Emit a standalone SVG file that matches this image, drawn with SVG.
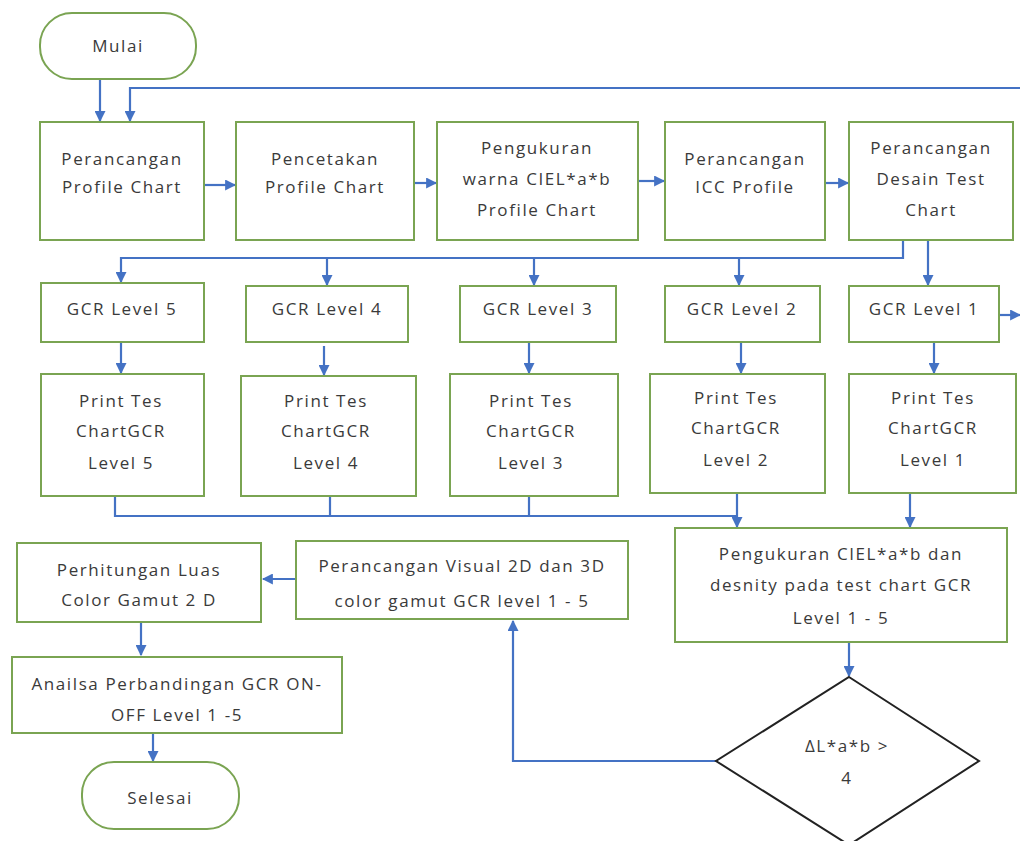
<svg xmlns="http://www.w3.org/2000/svg" width="1020" height="841" viewBox="0 0 1020 841">
<style>
.n{fill:#fff;stroke:#7aa452;stroke-width:2}
.t{font-family:"Open Sans","Liberation Sans",sans-serif;font-size:17px;fill:#3a3a3a;text-anchor:middle;dominant-baseline:central;letter-spacing:1.6px}
.c{fill:none;stroke:#4472c4;stroke-width:2.2}
</style>
<defs>
<marker id="a" viewBox="0 0 10 10" refX="9" refY="5" markerWidth="5" markerHeight="5" orient="auto" markerUnits="strokeWidth">
<path d="M0,0 L10,5 L0,10 z" fill="#4472c4"/>
</marker>
</defs>
<rect width="1020" height="841" fill="#fff"/>
<g id="connectors">
<path class="c" d="M100,79 V121" marker-end="url(#a)"/>
<path class="c" d="M1020,88 H130 V121" marker-end="url(#a)"/>
<path class="c" d="M204,185 H235" marker-end="url(#a)"/>
<path class="c" d="M414,183 H436" marker-end="url(#a)"/>
<path class="c" d="M638,181 H664" marker-end="url(#a)"/>
<path class="c" d="M825,183 H848" marker-end="url(#a)"/>
<path class="c" d="M903,240 V258 H121 V282" marker-end="url(#a)"/>
<path class="c" d="M327,258 V285" marker-end="url(#a)"/>
<path class="c" d="M534,258 V285" marker-end="url(#a)"/>
<path class="c" d="M739,258 V285" marker-end="url(#a)"/>
<path class="c" d="M928,240 V285" marker-end="url(#a)"/>
<path class="c" d="M999,315 H1020" marker-end="url(#a)"/>
<path class="c" d="M121,342 V373" marker-end="url(#a)"/>
<path class="c" d="M324,346 V375" marker-end="url(#a)"/>
<path class="c" d="M529,342 V373" marker-end="url(#a)"/>
<path class="c" d="M741,342 V373" marker-end="url(#a)"/>
<path class="c" d="M934,342 V373" marker-end="url(#a)"/>
<path class="c" d="M115,496 V516 H737"/>
<path class="c" d="M330,496 V516"/>
<path class="c" d="M529,496 V516"/>
<path class="c" d="M737,493 V527" marker-end="url(#a)"/>
<path class="c" d="M910,493 V527" marker-end="url(#a)"/>
<path class="c" d="M849,642 V676" marker-end="url(#a)"/>
<path class="c" d="M716,761 H513 V621" marker-end="url(#a)"/>
<path class="c" d="M296,579 H263" marker-end="url(#a)"/>
<path class="c" d="M141,622 V655" marker-end="url(#a)"/>
<path class="c" d="M153,733 V761" marker-end="url(#a)"/>
</g>
<g id="mulai"><rect class="n" x="40" y="13" width="156" height="66" rx="32"/><text class="t" x="118" y="45">Mulai</text></g>
<g id="profile-chart"><rect class="n" x="40" y="122" width="164" height="118"/><text class="t" x="122" y="158">Perancangan</text><text class="t" x="122" y="186">Profile Chart</text></g>
<g id="pencetakan"><rect class="n" x="236" y="122" width="178" height="118"/><text class="t" x="325" y="158">Pencetakan</text><text class="t" x="325" y="186">Profile Chart</text></g>
<g id="pengukuran"><rect class="n" x="437" y="122" width="201" height="118"/><text class="t" x="537" y="147">Pengukuran</text><text class="t" x="537" y="178">warna CIEL*a*b</text><text class="t" x="537" y="209">Profile Chart</text></g>
<g id="icc"><rect class="n" x="665" y="122" width="160" height="118"/><text class="t" x="745" y="158">Perancangan</text><text class="t" x="745" y="186">ICC Profile</text></g>
<g id="desain"><rect class="n" x="849" y="122" width="164" height="118"/><text class="t" x="931" y="147">Perancangan</text><text class="t" x="931" y="178">Desain Test</text><text class="t" x="931" y="209">Chart</text></g>
<g id="gcr5"><rect class="n" x="41" y="283" width="163" height="59"/><text class="t" x="122" y="308">GCR Level 5</text></g>
<g id="gcr4"><rect class="n" x="246" y="286" width="162" height="56"/><text class="t" x="327" y="308">GCR Level 4</text></g>
<g id="gcr3"><rect class="n" x="460" y="286" width="156" height="56"/><text class="t" x="538" y="308">GCR Level 3</text></g>
<g id="gcr2"><rect class="n" x="665" y="286" width="155" height="56"/><text class="t" x="742" y="308">GCR Level 2</text></g>
<g id="gcr1"><rect class="n" x="849" y="286" width="150" height="56"/><text class="t" x="924" y="308">GCR Level 1</text></g>
<g id="print5"><rect class="n" x="41" y="374" width="163" height="122"/><text class="t" x="121" y="400">Print Tes</text><text class="t" x="121" y="430">ChartGCR</text><text class="t" x="121" y="462">Level 5</text></g>
<g id="print4"><rect class="n" x="241" y="376" width="175" height="120"/><text class="t" x="326" y="400">Print Tes</text><text class="t" x="326" y="430">ChartGCR</text><text class="t" x="326" y="462">Level 4</text></g>
<g id="print3"><rect class="n" x="450" y="374" width="168" height="122"/><text class="t" x="531" y="400">Print Tes</text><text class="t" x="531" y="430">ChartGCR</text><text class="t" x="531" y="462">Level 3</text></g>
<g id="print2"><rect class="n" x="650" y="374" width="175" height="119"/><text class="t" x="736" y="397">Print Tes</text><text class="t" x="736" y="427">ChartGCR</text><text class="t" x="736" y="459">Level 2</text></g>
<g id="print1"><rect class="n" x="849" y="374" width="167" height="119"/><text class="t" x="933" y="397">Print Tes</text><text class="t" x="933" y="427">ChartGCR</text><text class="t" x="933" y="459">Level 1</text></g>
<g id="pengukuran-gcr"><rect class="n" x="675" y="528" width="332" height="114"/><text class="t" x="841" y="553">Pengukuran CIEL*a*b dan</text><text class="t" x="841" y="584">desnity pada test chart GCR</text><text class="t" x="841" y="617">Level 1 - 5</text></g>
<g id="visual"><rect class="n" x="296" y="541" width="332" height="78"/><text class="t" x="462" y="565">Perancangan Visual 2D dan 3D</text><text class="t" x="462" y="600">color gamut GCR level 1 - 5</text></g>
<g id="perhitungan"><rect class="n" x="17" y="543" width="244" height="79"/><text class="t" x="139" y="569">Perhitungan Luas</text><text class="t" x="139" y="599">Color Gamut 2 D</text></g>
<g id="analisa"><rect class="n" x="12" y="657" width="330" height="76"/><text class="t" x="177" y="683">Anailsa Perbandingan GCR ON-</text><text class="t" x="177" y="714">OFF Level 1 -5</text></g>
<g id="selesai"><rect class="n" x="82" y="762" width="157" height="67" rx="32"/><text class="t" x="160" y="797">Selesai</text></g>
<g id="decision"><path d="M849,677 L979,761 L849,845 L716,761 Z" fill="#fff" stroke="#222" stroke-width="2"/><text class="t" x="847" y="745">ΔL*a*b &gt;</text><text class="t" x="847" y="777">4</text></g>
</svg>
